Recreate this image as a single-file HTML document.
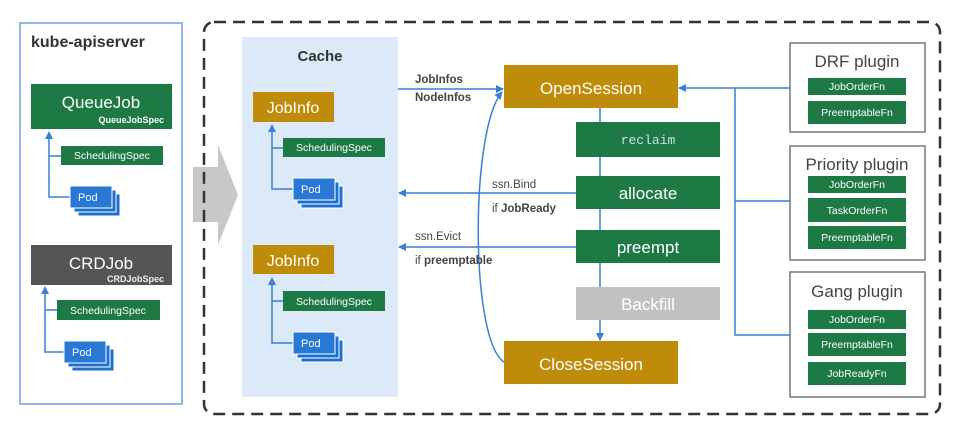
<!DOCTYPE html>
<html><head><meta charset="utf-8"><style>
html,body{margin:0;padding:0;background:#fff;}
svg{display:block;font-family:"Liberation Sans",sans-serif;}
</style></head><body>
<svg width="960" height="421" viewBox="0 0 960 421" xmlns="http://www.w3.org/2000/svg">
<defs>
<marker id="ah" markerWidth="8" markerHeight="8" refX="7" refY="4" orient="auto" markerUnits="userSpaceOnUse"><path d="M0,0 L8,4 L0,8 z" fill="#3a7fd5"/></marker>
<g id="pod"><rect x="8" y="8" width="42" height="22" fill="#1f6fcf" stroke="#fff" stroke-width="1"/><rect x="4" y="4" width="42" height="22" fill="#1f6fcf" stroke="#fff" stroke-width="1"/><rect x="0" y="0" width="42" height="22" fill="#2a78d6" stroke="#fff" stroke-width="1"/><text x="8" y="15" font-size="11" fill="#fff">Pod</text></g>
</defs>
<rect x="20" y="23" width="162" height="381" fill="#fff" stroke="#8fb8ec" stroke-width="2"/>
<text x="31" y="47" font-size="16" font-weight="bold" fill="#333">kube-apiserver</text>
<rect x="31" y="84" width="141" height="45" fill="#1e7a45"/>
<text x="101" y="108" font-size="17" fill="#fff" text-anchor="middle">QueueJob</text>
<text x="164" y="123" font-size="9" font-weight="bold" fill="#fff" text-anchor="end">QueueJobSpec</text>
<rect x="61" y="146" width="102" height="19" fill="#1e7a45"/>
<text x="112" y="159" font-size="10.5" fill="#fff" text-anchor="middle">SchedulingSpec</text>
<path d="M49,137 V197 H70 M49,156 H61" fill="none" stroke="#3a7fd5" stroke-width="1.5"/>
<path d="M45,139 L49,131 L53,139 z" fill="#3a7fd5"/>
<use href="#pod" x="70" y="186"/>
<rect x="31" y="245" width="141" height="40" fill="#555"/>
<text x="101" y="269" font-size="17" fill="#fff" text-anchor="middle">CRDJob</text>
<text x="164" y="282" font-size="9" font-weight="bold" fill="#eee" text-anchor="end">CRDJobSpec</text>
<rect x="57" y="300" width="103" height="20" fill="#1e7a45"/>
<text x="108" y="314" font-size="10.5" fill="#fff" text-anchor="middle">SchedulingSpec</text>
<path d="M45,292 V352 H64 M45,310 H57" fill="none" stroke="#3a7fd5" stroke-width="1.5"/>
<path d="M41,294 L45,286 L49,294 z" fill="#3a7fd5"/>
<use href="#pod" x="64" y="341"/>
<path d="M193,167 H218 V145 L238,195 L218,245 V222 H193 z" fill="#c8c8c8"/>
<rect x="204" y="22" width="736" height="392" rx="10" fill="none" stroke="#333" stroke-width="2.5" stroke-dasharray="12,7"/>
<rect x="242" y="37" width="156" height="360" fill="#dce9f9"/>
<text x="320" y="61" font-size="15" font-weight="bold" fill="#333" text-anchor="middle">Cache</text>
<rect x="253" y="92" width="81" height="30" fill="#bf8c0a"/>
<text x="293" y="113" font-size="16" fill="#fff" text-anchor="middle">JobInfo</text>
<rect x="283" y="138" width="102" height="19" fill="#1e7a45"/>
<text x="334" y="151" font-size="10.5" fill="#fff" text-anchor="middle">SchedulingSpec</text>
<path d="M272,130 V189 H293 M272,148 H283" fill="none" stroke="#3a7fd5" stroke-width="1.5"/>
<path d="M268,132 L272,124 L276,132 z" fill="#3a7fd5"/>
<use href="#pod" x="293" y="178"/>
<rect x="253" y="245" width="81" height="29" fill="#bf8c0a"/>
<text x="293" y="266" font-size="16" fill="#fff" text-anchor="middle">JobInfo</text>
<rect x="283" y="291" width="102" height="20" fill="#1e7a45"/>
<text x="334" y="305" font-size="10.5" fill="#fff" text-anchor="middle">SchedulingSpec</text>
<path d="M272,283 V343 H293 M272,301 H283" fill="none" stroke="#3a7fd5" stroke-width="1.5"/>
<path d="M268,285 L272,277 L276,285 z" fill="#3a7fd5"/>
<use href="#pod" x="293" y="332"/>
<line x1="600" y1="108" x2="600" y2="340" stroke="#3a7fd5" stroke-width="1.5" marker-end="url(#ah)"/>
<line x1="398" y1="89" x2="503" y2="89" stroke="#3a7fd5" stroke-width="1.5" marker-end="url(#ah)"/>
<line x1="576" y1="193" x2="399" y2="193" stroke="#3a7fd5" stroke-width="1.5" marker-end="url(#ah)"/>
<line x1="576" y1="247" x2="399" y2="247" stroke="#3a7fd5" stroke-width="1.5" marker-end="url(#ah)"/>
<path d="M504,362 C470,340 470,130 502,92" fill="none" stroke="#3a7fd5" stroke-width="1.5" marker-end="url(#ah)"/>
<text x="415" y="83" font-size="11.5" font-weight="bold" fill="#444">JobInfos</text>
<text x="415" y="101" font-size="11.5" font-weight="bold" fill="#444">NodeInfos</text>
<text x="492" y="188" font-size="11.5" fill="#444">ssn.Bind</text>
<text x="492" y="212" font-size="11.5" fill="#444">if <tspan font-weight="bold">JobReady</tspan></text>
<text x="415" y="240" font-size="11.5" fill="#444">ssn.Evict</text>
<text x="415" y="264" font-size="11.5" fill="#444">if <tspan font-weight="bold">preemptable</tspan></text>
<rect x="504" y="65" width="174" height="43" fill="#bf8c0a"/>
<text x="591" y="94" font-size="17" fill="#fff" text-anchor="middle">OpenSession</text>
<rect x="576" y="122" width="144" height="35" fill="#1e7a45"/>
<text x="648" y="144" font-size="13" fill="#cde" text-anchor="middle" font-family="Liberation Mono,monospace">reclaim</text>
<rect x="576" y="176" width="144" height="33" fill="#1e7a45"/>
<text x="648" y="199" font-size="17" fill="#fff" text-anchor="middle">allocate</text>
<rect x="576" y="230" width="144" height="33" fill="#1e7a45"/>
<text x="648" y="253" font-size="17" fill="#fff" text-anchor="middle">preempt</text>
<rect x="576" y="287" width="144" height="33" fill="#c2c2c2"/>
<text x="648" y="310" font-size="17" fill="#fff" text-anchor="middle">Backfill</text>
<rect x="504" y="341" width="174" height="43" fill="#bf8c0a"/>
<text x="591" y="370" font-size="17" fill="#fff" text-anchor="middle">CloseSession</text>
<line x1="790" y1="88" x2="679" y2="88" stroke="#3a7fd5" stroke-width="1.5" marker-end="url(#ah)"/>
<path d="M735,88 V335 H790 M735,201 H790" fill="none" stroke="#3a7fd5" stroke-width="1.5"/>
<g fill="#fff" stroke="#777" stroke-width="1.5">
<rect x="790" y="43" width="135" height="89"/>
<rect x="790" y="146" width="135" height="114"/>
<rect x="790" y="272" width="135" height="125"/>
</g>
<g font-size="17" fill="#444" text-anchor="middle">
<text x="857" y="67">DRF plugin</text>
<text x="857" y="170">Priority plugin</text>
<text x="857" y="297">Gang plugin</text>
</g>
<g fill="#1e7a45">
<rect x="808" y="78" width="98" height="17"/><rect x="808" y="101" width="98" height="23"/>
<rect x="808" y="176" width="98" height="17"/><rect x="808" y="198" width="98" height="24"/><rect x="808" y="226" width="98" height="23"/>
<rect x="808" y="310" width="98" height="19"/><rect x="808" y="333" width="98" height="23"/><rect x="808" y="362" width="98" height="23"/>
</g>
<g font-size="10.5" fill="#fff" text-anchor="middle">
<text x="857" y="90">JobOrderFn</text><text x="857" y="116">PreemptableFn</text>
<text x="857" y="188">JobOrderFn</text><text x="857" y="214">TaskOrderFn</text><text x="857" y="241">PreemptableFn</text>
<text x="857" y="323">JobOrderFn</text><text x="857" y="348">PreemptableFn</text><text x="857" y="377">JobReadyFn</text>
</g>
</svg>
</body></html>
